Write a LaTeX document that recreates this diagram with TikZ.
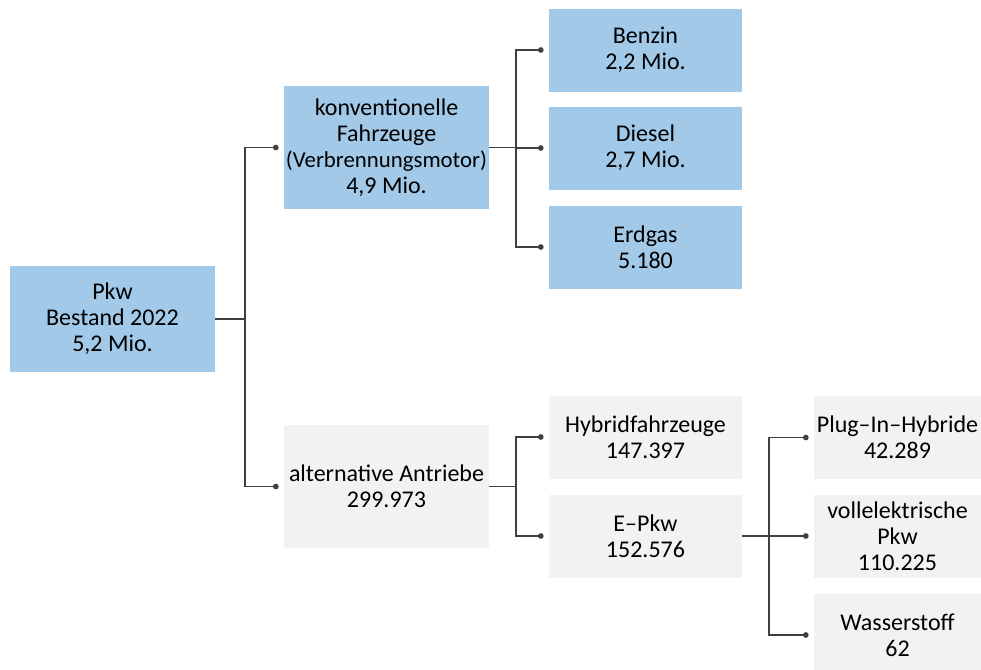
\documentclass[tikz,border=0pt]{standalone}
\usepackage{fontspec}
\setmainfont{Carlito}
\usetikzlibrary{arrows.meta}

\definecolor{boxblue}{RGB}{163,201,232}
\definecolor{boxgrey}{RGB}{242,242,242}
\definecolor{linegrey}{RGB}{64,64,64}

\tikzset{
  catbox/.style={align=center, inner sep=0pt, font=\fontsize{12}{13}\selectfont,
    text=black},
  bluebox/.style={catbox, fill=boxblue},
  greybox/.style={catbox, fill=boxgrey},
  wide/.style={minimum width=102.5pt},
  mid/.style={minimum width=96.5pt, minimum height=41.5pt},
  narrow/.style={minimum width=83.5pt, minimum height=41.5pt},
  conn/.style={draw=linegrey, line width=0.75pt, -{Circle[length=2.8pt, fill=linegrey]}}
}

\begin{document}
\begin{tikzpicture}[x=0.5pt, y=-0.5pt]
  \useasboundingbox (0,0) rectangle (981,670);

  % root
  \node[bluebox, wide, minimum height=53pt] (pkw) at (112.5,319) {Pkw\\Bestand 2022\\5,2 Mio.};

  % first level
  \node[bluebox, wide, minimum height=61.5pt] (konv) at (386.5,147.5)
    {konventionelle\\Fahrzeuge\\{\fontsize{11.4}{13}\selectfont (Verbrennungsmotor)}\\4,9 Mio.};
  \node[greybox, wide, minimum height=61.5pt] (alt) at (386.5,486.5)
    {alternative Antriebe\\299.973};

  % conventional fuels
  \node[bluebox, mid] (benzin) at (645.5,50) {Benzin\\2,2 Mio.};
  \node[bluebox, mid] (diesel) at (645.5,148) {Diesel\\2,7 Mio.};
  \node[bluebox, mid] (erdgas) at (645.5,247) {Erdgas\\5.180};

  % alternative drives
  \node[greybox, mid] (hybrid) at (645.5,437) {Hybridfahrzeuge\\147.397};
  \node[greybox, mid] (epkw) at (645.5,536) {E--Pkw\\152.576};

  % electric cars
  \node[greybox, narrow] (plugin) at (897.5,437.5) {Plug--In--Hybride\\42.289};
  \node[greybox, narrow] (vollel) at (897.5,536) {vollelektrische\\Pkw\\110.225};
  \node[greybox, narrow] (wasser) at (897.5,635) {Wasserstoff\\62};

  % junction columns
  \coordinate (j1) at (245,0);
  \coordinate (j2) at (516,0);
  \coordinate (j3) at (769,0);

  % connectors
  \foreach \child in {konv,alt}
    \draw[conn] (pkw.east) -- (pkw.east -| j1) |- ([xshift=-2.5pt]\child.west);
  \foreach \child in {benzin,diesel,erdgas}
    \draw[conn] (konv.east) -- (konv.east -| j2) |- ([xshift=-2.5pt]\child.west);
  \foreach \child in {hybrid,epkw}
    \draw[conn] (alt.east) -- (alt.east -| j2) |- ([xshift=-2.5pt]\child.west);
  \foreach \child in {plugin,vollel,wasser}
    \draw[conn] (epkw.east) -- (epkw.east -| j3) |- ([xshift=-2.5pt]\child.west);
\end{tikzpicture}
\end{document}
